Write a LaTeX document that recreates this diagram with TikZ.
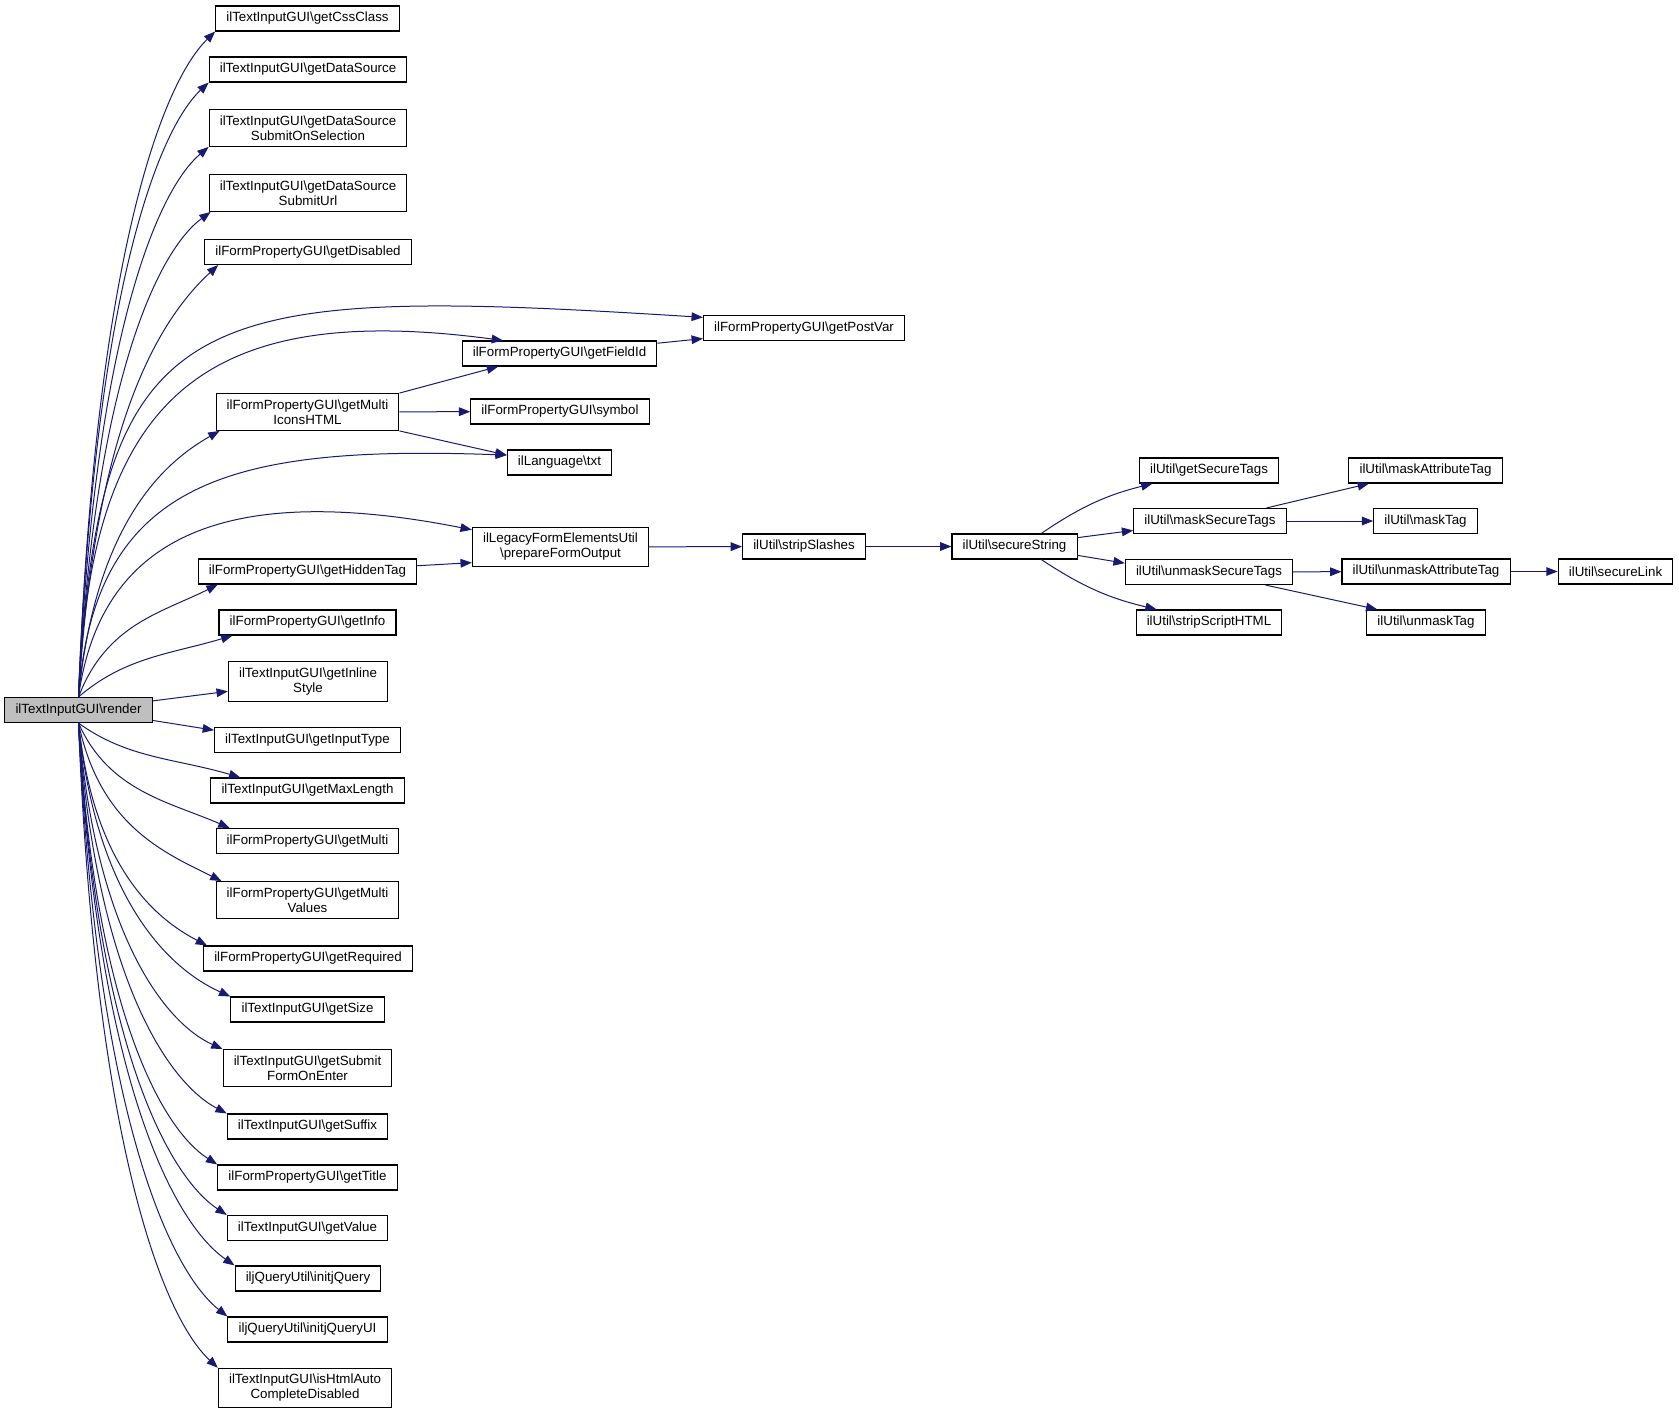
\documentclass[tikz,border=0pt]{standalone}
\usepackage{fontspec}
\setmainfont{Liberation Sans}
\usetikzlibrary{arrows.meta, calc}
\newcommand{\bsl}{\textbackslash}
\definecolor{callblue}{HTML}{191970}
\definecolor{rootgray}{HTML}{BFBFBF}
\tikzset{
  fn/.style={draw=black, fill=white, line width=0.8pt, font=\fontsize{10}{11.25}\selectfont,
    inner xsep=8pt, inner ysep=4.5pt, minimum height=18.75pt, align=center},
  rootbox/.style={fn, fill=rootgray},
  call/.style={draw=callblue, line width=0.75pt, -{Triangle[length=8.5pt,width=6.5pt]}}
}
\begin{document}
\begin{tikzpicture}[x=0.75pt, y=-0.75pt]
\useasboundingbox (0,0) rectangle (1679,1414);
%render and what it calls
\node[rootbox] (render) at (78.5,710) {ilTextInputGUI\bsl render};
\node[fn] (cssclass) at (307.5,18.5) {ilTextInputGUI\bsl getCssClass};
\node[fn] (datasource) at (308,69.5) {ilTextInputGUI\bsl getDataSource};
\node[fn] (dssubmitsel) at (308,128) {ilTextInputGUI\bsl getDataSource\\SubmitOnSelection};
\node[fn] (dssubmiturl) at (308,193) {ilTextInputGUI\bsl getDataSource\\SubmitUrl};
\node[fn] (disabled) at (308,252) {ilFormPropertyGUI\bsl getDisabled};
\node[fn] (postvar) at (804,328) {ilFormPropertyGUI\bsl getPostVar};
\node[fn] (fieldid) at (559.5,353.5) {ilFormPropertyGUI\bsl getFieldId};
\node[fn] (multiicons) at (307.5,412) {ilFormPropertyGUI\bsl getMulti\\IconsHTML};
\node[fn] (symbol) at (560,411.5) {ilFormPropertyGUI\bsl symbol};
\node[fn] (langtxt) at (559.5,462.5) {ilLanguage\bsl txt};
\node[fn] (prepare) at (560.5,547) {ilLegacyFormElementsUtil\\\bsl prepareFormOutput};
\node[fn] (hiddentag) at (307.5,571.5) {ilFormPropertyGUI\bsl getHiddenTag};
\node[fn] (getinfo) at (307.5,622.5) {ilFormPropertyGUI\bsl getInfo};
\node[fn] (inlinestyle) at (308,681.5) {ilTextInputGUI\bsl getInline\\Style};
\node[fn] (inputtype) at (307.5,740) {ilTextInputGUI\bsl getInputType};
\node[fn] (maxlength) at (307.5,790.5) {ilTextInputGUI\bsl getMaxLength};
\node[fn] (getmulti) at (307.5,841) {ilFormPropertyGUI\bsl getMulti};
\node[fn] (multivalues) at (307.5,900) {ilFormPropertyGUI\bsl getMulti\\Values};
\node[fn] (required) at (308,958.5) {ilFormPropertyGUI\bsl getRequired};
\node[fn] (getsize) at (307.5,1009.5) {ilTextInputGUI\bsl getSize};
\node[fn] (submitenter) at (307.5,1068) {ilTextInputGUI\bsl getSubmit\\FormOnEnter};
\node[fn] (suffix) at (307.5,1126.5) {ilTextInputGUI\bsl getSuffix};
\node[fn] (title) at (307.5,1177.5) {ilFormPropertyGUI\bsl getTitle};
\node[fn] (value) at (307.5,1228) {ilTextInputGUI\bsl getValue};
\node[fn] (initjquery) at (308,1278.5) {iljQueryUtil\bsl initjQuery};
\node[fn] (initjqueryui) at (307.5,1329.5) {iljQueryUtil\bsl initjQueryUI};
\node[fn] (autocomplete) at (305,1388) {ilTextInputGUI\bsl isHtmlAuto\\CompleteDisabled};
%ilUtil chain
\node[fn] (stripslashes) at (804,546.5) {ilUtil\bsl stripSlashes};
\node[fn] (securestring) at (1014.5,546.5) {ilUtil\bsl secureString};
\node[fn] (getsecuretags) at (1209,470.5) {ilUtil\bsl getSecureTags};
\node[fn] (masksecuretags) at (1210,521) {ilUtil\bsl maskSecureTags};
\node[fn] (unmasksecuretags) at (1209,572) {ilUtil\bsl unmaskSecureTags};
\node[fn] (stripscript) at (1209,622.5) {ilUtil\bsl stripScriptHTML};
\node[fn] (maskattr) at (1425.5,470.5) {ilUtil\bsl maskAttributeTag};
\node[fn] (masktag) at (1425.5,521) {ilUtil\bsl maskTag};
\node[fn] (unmaskattr) at (1426,571.5) {ilUtil\bsl unmaskAttributeTag};
\node[fn] (unmasktag) at (1426,622.5) {ilUtil\bsl unmaskTag};
\node[fn] (securelink) at (1615.5,571.5) {ilUtil\bsl secureLink};
%fan out of render
\foreach \dst/\sa/\ea/\sh/\m/\k in {cssclass/north/south west/0/0.12/0.08,
    datasource/north/south west/0/0.12/0.08, dssubmitsel/north/south west/0/0.12/0.08,
    dssubmiturl/north/south west/2/0.12/0.08, disabled/north/south west/14/0.12/0.12,
    multiicons/north/south west/4/0.12/0.12, hiddentag/north/south west/20/0.2/0.25,
    getinfo/north/south west/14/0.3/0.3, maxlength/south/north west/30/0.3/0.35,
    getmulti/south/north west/14/0.2/0.25, multivalues/south/north west/6/0.15/0.18,
    required/south/north west/4/0.12/0.12, getsize/south/north west/0/0.12/0.1,
    submitenter/south/north west/0/0.12/0.08, suffix/south/north west/0/0.12/0.08,
    title/south/north west/0/0.12/0.08, value/south/north west/0/0.12/0.08,
    initjquery/south/north west/0/0.12/0.08, initjqueryui/south/north west/0/0.12/0.08,
    autocomplete/south/north west/0/0.12/0.08}
  \draw[call] let \p1=(render.\sa), \p2=($(\dst.\ea)+(\sh,0)$) in
    (\p1) .. controls ({\x1+\m*(\x2-\x1)},{\y1+0.65*(\y2-\y1)})
    and ({\x2-0.4*(\x2-\x1)},{\y2-\k*(\y2-\y1)}) .. (\p2);
\draw[call] (render.7) -- (inlinestyle.187);
\draw[call] (render.352) -- (inputtype.174);
\draw[call] (render.north) .. controls (100,300) and (190,285) .. (postvar.174);
\draw[call] (render.north) .. controls (90,400) and (200,300) .. (fieldid.167);
\draw[call] (render.north) .. controls (95,480) and (230,445) .. (langtxt.172);
\draw[call] (render.north) .. controls (100,540) and (220,480) .. (prepare.169);
\draw[call] (multiicons.north east) -- (fieldid.192);
\draw[call] (multiicons) -- (symbol);
\draw[call] (multiicons.south east) -- (langtxt.172);
\draw[call] (fieldid.6) -- (postvar.186);
\draw[call] (hiddentag.3) -- (prepare.190);
\draw[call] (prepare) -- (stripslashes);
\draw[call] (stripslashes) -- (securestring);
\draw[call] (securestring.26) to[bend left=10] (getsecuretags.193);
\draw[call] (securestring.8) -- (masksecuretags.187);
\draw[call] (securestring.352) -- (unmasksecuretags.174);
\draw[call] (securestring.334) to[bend right=10] (stripscript.166);
\draw[call] (masksecuretags.13) -- (maskattr.193);
\draw[call] (masksecuretags) -- (masktag);
\draw[call] (unmasksecuretags) -- (unmaskattr);
\draw[call] (unmasksecuretags.347) -- (unmasktag.165);
\draw[call] (unmaskattr) -- (securelink);
\end{tikzpicture}
\end{document}
